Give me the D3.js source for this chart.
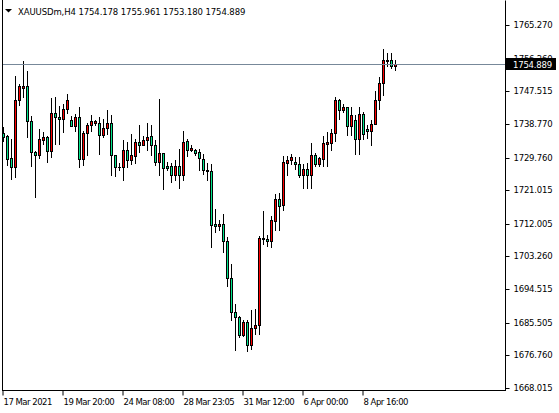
<!DOCTYPE html>
<html><head><meta charset="utf-8">
<script src="https://cdn.jsdelivr.net/npm/d3@7"></script>
<style>
html,body{margin:0;padding:0;background:#fff;}
svg{display:block;}
text{font-family:"DejaVu Sans",sans-serif;font-size:8.5px;fill:#000;}
</style></head>
<body>
<svg id="c" width="559" height="413"></svg>
<script>
const symbol = "XAUUSDm,H4";
const lastOHLC = ["1754.178","1755.961","1753.180","1754.889"];
const open  = [1736.46,1735.65,1729.76,1727.35,1745.11,1748.52,1749.05,1739.67,1731.37,1730.56,1734.58,1735.39,1731.63,1741.82,1740.75,1740.21,1742.89,1739.94,1738.33,1740.75,1729.49,1736.46,1738.60,1739.14,1739.14,1735.74,1737.72,1739.06,1730.48,1727.35,1727.27,1731.71,1729.03,1730.29,1734.05,1733.05,1734.58,1735.65,1733.24,1728.61,1731.02,1727.61,1727.61,1725.20,1727.61,1725.20,1734.23,1731.90,1731.71,1731.29,1729.41,1726.46,1726.19,1711.88,1711.35,1712.07,1707.43,1697.52,1688.41,1687.07,1682.13,1685.73,1679.45,1684.12,1684.81,1707.86,1708.05,1707.43,1712.79,1718.77,1716.97,1728.34,1729.22,1728.69,1728.07,1725.01,1726.73,1725.01,1730.56,1727.96,1729.49,1733.51,1733.70,1736.38,1745.30,1742.44,1743.35,1738.25,1739.75,1734.77,1741.47,1737.45,1736.91,1738.87,1745.30,1749.78,1755.67,1756.02,1754.178];
const high  = [1738.07,1735.80,1734.85,1751.73,1749.59,1755.75,1753.07,1741.01,1731.63,1737.53,1736.73,1735.65,1745.84,1746.11,1743.69,1744.23,1746.91,1741.01,1741.55,1743.43,1736.99,1739.14,1741.28,1739.94,1740.75,1740.21,1742.62,1741.28,1730.56,1728.42,1734.58,1734.05,1736.19,1734.85,1738.60,1735.47,1739.14,1738.41,1734.39,1745.57,1731.10,1728.50,1728.42,1729.22,1732.17,1736.91,1734.77,1733.05,1732.09,1731.98,1730.75,1728.34,1728.15,1716.09,1712.96,1714.56,1708.51,1701.16,1690.63,1687.30,1686.15,1686.15,1689.02,1689.29,1708.67,1715.47,1708.94,1714.21,1720.11,1720.30,1730.11,1730.29,1730.83,1729.95,1729.95,1728.15,1728.34,1733.78,1731.02,1729.95,1735.47,1736.73,1737.53,1746.03,1745.57,1744.23,1743.43,1743.35,1741.09,1743.35,1742.01,1738.41,1739.75,1747.63,1751.39,1758.97,1757.82,1757.82,1755.961];
const low   = [1734.31,1727.88,1724.13,1724.67,1743.77,1746.11,1735.39,1727.61,1719.31,1729.76,1733.51,1728.69,1730.03,1733.51,1733.51,1736.73,1741.82,1738.20,1736.99,1727.35,1727.88,1730.56,1736.99,1738.60,1730.83,1735.39,1736.19,1725.01,1724.75,1726.35,1723.67,1727.35,1727.96,1728.42,1731.29,1733.00,1731.71,1730.37,1727.69,1725.01,1721.45,1726.35,1723.25,1723.86,1721.64,1723.86,1730.11,1731.55,1730.37,1726.35,1725.28,1723.67,1705.83,1709.85,1710.28,1704.49,1695.27,1686.15,1678.30,1681.70,1681.97,1677.85,1678.57,1682.59,1682.40,1706.52,1706.03,1705.83,1710.46,1710.46,1715.64,1725.20,1727.96,1726.81,1724.59,1721.72,1721.72,1721.72,1727.43,1727.43,1727.43,1727.43,1731.71,1734.23,1740.21,1742.01,1735.74,1735.74,1730.83,1730.83,1734.85,1735.12,1733.05,1738.68,1742.89,1746.46,1754.23,1753.88,1753.180];
const close = [1735.39,1729.49,1727.35,1745.30,1748.87,1749.05,1739.67,1731.37,1730.56,1734.85,1735.39,1731.63,1741.82,1740.75,1740.21,1742.89,1745.30,1738.33,1740.75,1729.49,1736.46,1738.60,1739.67,1739.67,1735.92,1737.80,1739.06,1730.37,1727.27,1727.27,1731.71,1729.03,1730.56,1734.05,1733.05,1734.58,1735.39,1733.24,1728.61,1731.02,1727.00,1727.00,1725.20,1727.61,1725.20,1733.97,1731.90,1732.44,1731.02,1729.68,1726.35,1726.09,1711.61,1711.35,1712.07,1707.43,1697.52,1688.41,1687.07,1682.13,1685.73,1679.45,1684.20,1685.00,1708.24,1708.32,1707.43,1713.06,1718.77,1716.81,1728.61,1729.22,1730.03,1728.15,1725.01,1726.73,1725.01,1730.56,1727.96,1729.57,1733.70,1733.86,1736.38,1745.30,1742.62,1743.35,1738.25,1741.28,1734.77,1741.36,1736.19,1736.91,1738.87,1745.30,1749.78,1756.02,1756.02,1754.23,1754.889];
const priceTicks = [1765.270,1756.260,1747.515,1738.770,1729.760,1721.015,1712.005,1703.260,1694.515,1685.505,1676.760,1668.015];
const timeTickIndex = [0,15,30,45,60,75,90];
const timeTickLabels = ["17 Mar 2021","19 Mar 20:00","24 Mar 08:00","28 Mar 23:05","31 Mar 12:00","6 Apr 00:00","8 Apr 16:00"];
const currentPrice = 1754.889;

const bullColor = "#ff0000", bearColor = "#00e68c", lineColor = "#778899";
const svg = d3.select("#c");
const plotL = 2, plotR = 505, plotB = 390;

const n = open.length;
const x = d3.scaleLinear().domain([0, n - 1]).range([3, 3 + 4 * (n - 1)]);
const y = d3.scaleLinear().domain([1668.015, 1765.270]).range([388.5, 25.5]);
const Y = p => Math.floor(y(p));

// header
svg.append("path").attr("d", "M5,9 L12,9 L8.5,12.5 Z").attr("fill", "#000");
svg.append("text").attr("x", 18).attr("y", 14.5).style("letter-spacing", "-0.1px")
  .text(symbol + "  " + lastOHLC.join(" "));

// candles
const g = svg.append("g");
const idx = d3.range(n);
g.selectAll("line.w").data(idx).join("line")
  .attr("x1", i => x(i) + 0.5).attr("x2", i => x(i) + 0.5)
  .attr("y1", i => Y(high[i])).attr("y2", i => Y(low[i]) + 1)
  .attr("stroke", "#000").attr("stroke-width", 1);
idx.forEach(i => {
  const top = Y(Math.max(open[i], close[i]));
  const bot = Y(Math.min(open[i], close[i]));
  const col = close[i] >= open[i] ? bullColor : bearColor;
  if (bot - top >= 1) {
    g.append("rect").attr("x", x(i) - 0.5).attr("y", top + 0.5)
      .attr("width", 2).attr("height", bot - top)
      .attr("fill", col).attr("stroke", "#000").attr("stroke-width", 1);
  } else {
    g.append("line").attr("x1", x(i) - 1).attr("x2", x(i) + 2)
      .attr("y1", top + 0.5).attr("y2", top + 0.5)
      .attr("stroke", "#000").attr("stroke-width", 1);
  }
});

// current price line
const cpY = Y(currentPrice) + 0.5;
svg.append("line").attr("x1", plotL).attr("x2", plotR).attr("y1", cpY).attr("y2", cpY)
  .attr("stroke", lineColor).attr("stroke-width", 1);

// frame
svg.append("line").attr("x1", plotL + 0.5).attr("x2", plotL + 0.5).attr("y1", 0).attr("y2", plotB + 1).attr("stroke", "#000");
svg.append("line").attr("x1", plotL).attr("x2", plotR + 1).attr("y1", plotB + 0.5).attr("y2", plotB + 0.5).attr("stroke", "#000");

// right price axis
const ya = svg.append("g").attr("transform", `translate(${plotR + 0.5},0.5)`)
  .call(d3.axisRight(y).tickValues(priceTicks).tickFormat(d3.format(".3f")).tickSize(4).tickPadding(4));
ya.select(".domain").attr("d", `M0,0V${plotB}`).attr("stroke", "#000");
ya.selectAll(".tick").attr("transform", d => `translate(0,${Y(d)})`);
ya.selectAll(".tick line").attr("stroke", "#000");
ya.selectAll(".tick text").attr("fill", "#000").style("font-family", "DejaVu Sans").style("font-size", "8.5px")
  .style("letter-spacing", "-0.2px");

// current price label
svg.append("rect").attr("x", 506).attr("y", cpY - 6.5).attr("width", 50).attr("height", 12).attr("fill", "#000");
svg.append("text").attr("x", 513).attr("y", cpY + 3).attr("fill", "#fff").style("fill", "#fff")
  .style("letter-spacing", "-0.2px")
  .text(d3.format(".3f")(currentPrice));

// time axis
const xa = svg.append("g").attr("transform", `translate(0,${plotB + 0.5})`)
  .call(d3.axisBottom(d3.scaleLinear().domain(x.domain()).range(x.range().map(v => v - 0.5)))
    .tickValues(timeTickIndex).tickFormat((d, k) => timeTickLabels[k]).tickSize(5).tickPadding(3));
xa.select(".domain").remove();
xa.selectAll(".tick line").attr("stroke", "#000");
xa.selectAll(".tick text").attr("text-anchor", "start").attr("x", 0.5).attr("fill", "#000")
  .style("font-family", "DejaVu Sans").style("font-size", "8.5px").style("letter-spacing", "-0.5px");
</script>
</body></html>
